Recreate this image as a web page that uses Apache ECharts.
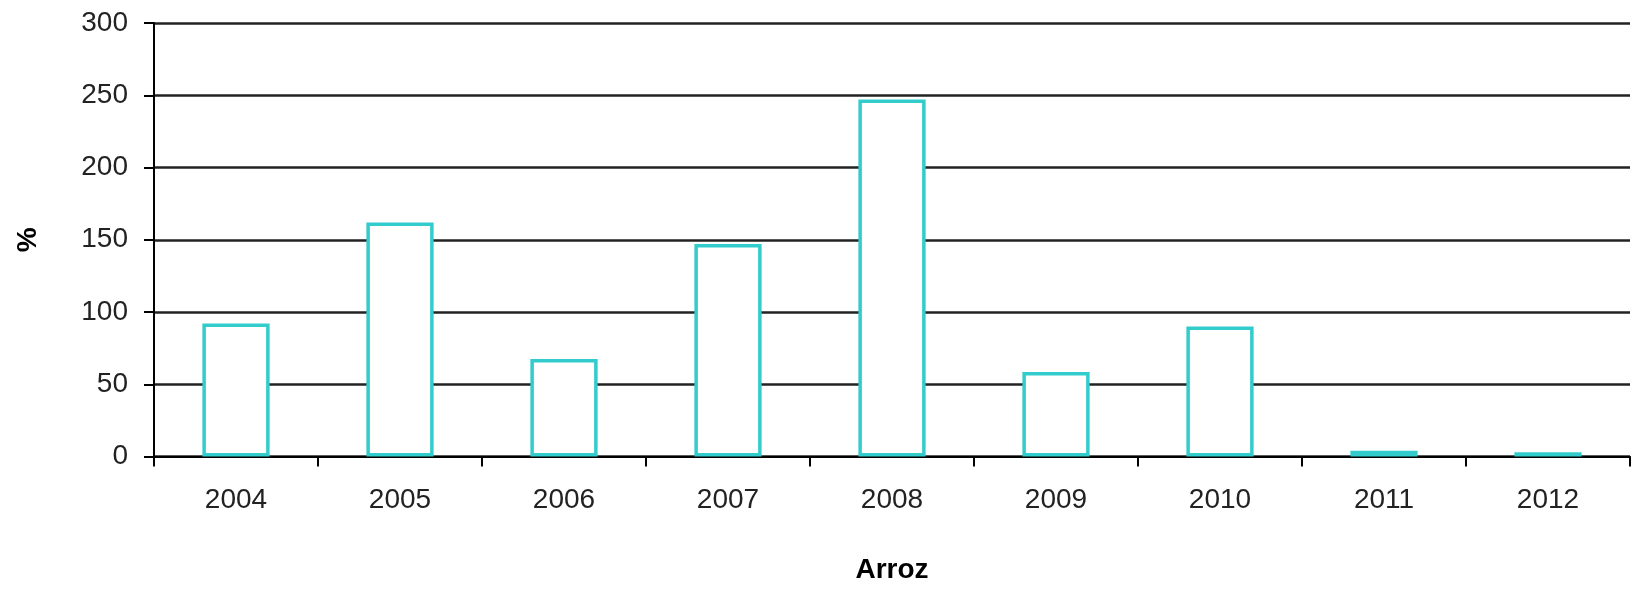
<!DOCTYPE html>
<html>
<head>
<meta charset="utf-8">
<script src="https://cdn.jsdelivr.net/npm/echarts@6/dist/echarts.min.js"></script>
<style>
html,body{margin:0;padding:0;background:#fff;}
#chart{width:1633px;height:591px;}
</style>
</head>
<body>
<div id="chart"></div>
<script>
const categories = ['2004','2005','2006','2007','2008','2009','2010','2011','2012'];
const values = [92, 162, 67.5, 147, 247, 58.5, 90, 4, 3];
const yTicks = [0, 50, 100, 150, 200, 250, 300];
const xAxisTitle = 'Arroz';
const yAxisTitle = '%';

const chart = echarts.init(document.getElementById('chart'), null, {renderer: 'canvas'});
const font = '"Liberation Sans", Arial, sans-serif';
chart.setOption({
  animation: false,
  backgroundColor: '#ffffff',
  grid: {left: 154, right: 3, top: 23, bottom: 134.5, containLabel: false},
  xAxis: {
    type: 'category',
    data: categories,
    name: xAxisTitle,
    nameLocation: 'middle',
    nameGap: 100,
    nameTextStyle: {fontFamily: font, fontSize: 28, fontWeight: 'bold', color: '#000'},
    axisLine: {lineStyle: {color: '#000', width: 2}},
    axisTick: {show: true, length: 10, lineStyle: {color: '#000', width: 2}},
    axisLabel: {fontFamily: font, fontSize: 28, color: '#222', margin: 30}
  },
  yAxis: {
    type: 'value',
    min: yTicks[0],
    max: yTicks[yTicks.length - 1],
    interval: 50,
    name: yAxisTitle,
    nameLocation: 'middle',
    nameGap: 112,
    nameTextStyle: {fontFamily: font, fontSize: 28, fontWeight: 'bold', color: '#000'},
    axisLine: {show: true, lineStyle: {color: '#000', width: 2}},
    axisTick: {show: true, length: 10, lineStyle: {color: '#000', width: 2}},
    axisLabel: {fontFamily: font, fontSize: 28, color: '#222', margin: 26},
    splitLine: {show: true, lineStyle: {color: '#222', width: 2.5}}
  },
  series: [{
    type: 'bar',
    data: values,
    barWidth: '41%',
    itemStyle: {color: '#ffffff', borderColor: '#33CCCC', borderWidth: 3.5},
    z: 3
  }]
});
</script>
</body>
</html>
